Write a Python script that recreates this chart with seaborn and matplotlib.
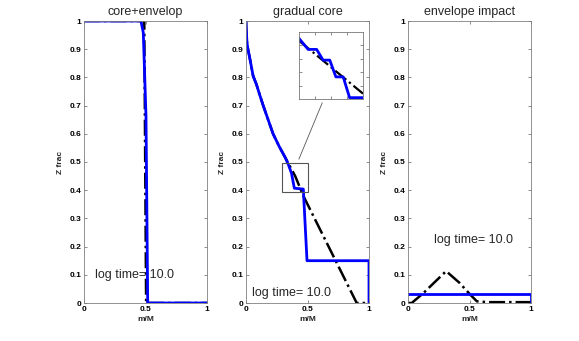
import numpy as np
import pandas as pd
import matplotlib
matplotlib.use("Agg")
import matplotlib.pyplot as plt
import seaborn as sns

# panel 1: core+envelop
core_x_blue = [0, 0.463, 0.482, 0.504, 0.518, 1.0]
core_y_blue = [1, 1, 0.959, 0.663, 0.0, 0.0]
core_x_black = [0, 0.49, 0.505, 1.0]
core_y_black = [1, 1, 0.0, 0.0]

# panel 2: gradual core
grad_x_blue = [0, 0.002, 0.008, 0.016, 0.03, 0.058, 0.085, 0.11, 0.14, 0.18, 0.22, 0.27, 0.32,
               0.345, 0.37, 0.393, 0.466, 0.496, 1.0, 1.0]
grad_y_blue = [1, 0.97, 0.923, 0.90, 0.87, 0.805, 0.775, 0.74, 0.70, 0.65, 0.60, 0.555, 0.515,
               0.49, 0.46, 0.407, 0.404, 0.15, 0.15, 0.0]
grad_x_black = [0, 0.002, 0.008, 0.016, 0.03, 0.058, 0.085, 0.11, 0.14, 0.18, 0.22, 0.27, 0.32,
                0.40, 0.466, 0.90, 1.0]
grad_y_black = [1, 0.97, 0.923, 0.90, 0.87, 0.805, 0.775, 0.74, 0.70, 0.65, 0.60, 0.555, 0.515,
                0.45, 0.38, 0.0, 0.0]

# zoomed inset of panel 2
inset_x_blue = [0.29, 0.32, 0.348, 0.369, 0.391, 0.411, 0.435, 0.456, 0.50]
inset_y_blue = [0.4855, 0.469, 0.469, 0.453, 0.453, 0.428, 0.428, 0.397, 0.397]
inset_x_black = [0.29, 0.50]
inset_y_black = [0.482, 0.403]

# panel 3: envelope impact
env_x_blue = [0, 1.0, 1.0]
env_y_blue = [0.032, 0.032, 0.0]
env_x_black = [0, 0.03, 0.125, 0.21, 0.31, 0.42, 0.505, 0.56, 0.65, 1.0]
env_y_black = [0, 0.0, 0.035, 0.071, 0.113, 0.071, 0.03, 0.006, 0.003, 0.003]

titles = ["core+envelop", "gradual core", "envelope impact"]
label_text = "log time= 10.0"
text_pos = [(0.09, 0.10), (0.05, 0.036), (0.21, 0.225)]

sns.set_style("ticks")
plt.rcParams['font.family'] = ['Liberation Sans', 'DejaVu Sans']
plt.rcParams['axes.edgecolor'] = '#808080'
plt.rcParams['axes.linewidth'] = 0.6

fig = plt.figure(figsize=(5.79, 3.41), dpi=100)
lefts = [84 / 579, 246 / 579, 408 / 579]
axes = [fig.add_axes([l, 38 / 341, 123 / 579, 282 / 341]) for l in lefts]

panels = [
    (core_x_blue, core_y_blue, core_x_black, core_y_black),
    (grad_x_blue, grad_y_blue, grad_x_black, grad_y_black),
    (env_x_blue, env_y_blue, env_x_black, env_y_black),
]


def style_ax(ax, labels=True):
    ax.tick_params(direction='in', length=2, width=0.5, top=True, right=True,
                   labelsize=6, pad=2, colors='#606060', labelcolor='black')
    for lab in ax.get_xticklabels() + ax.get_yticklabels():
        lab.set_fontweight('bold')
    if not labels:
        ax.tick_params(labelbottom=False, labelleft=False)


for ax, (bx, by, kx, ky), title, (tx, ty) in zip(axes, panels, titles, text_pos):
    sns.lineplot(x=kx, y=ky, ax=ax, sort=False, estimator=None, color='black',
                 linewidth=1.8, linestyle='-.')
    sns.lineplot(x=bx, y=by, ax=ax, sort=False, estimator=None, color='#0000ff',
                 linewidth=2.0)
    ax.set_xlim(0, 1)
    ax.set_ylim(0, 1)
    ax.set_xticks([0, 0.5, 1])
    ax.set_xticklabels(['0', '0.5', '1'])
    ax.set_yticks(np.arange(0, 1.01, 0.1))
    ax.set_yticklabels(['0'] + [f'{v:.1f}' for v in np.arange(0.1, 0.95, 0.1)] + ['1'])
    ax.set_title(title, fontsize=9, pad=4)
    ax.set_xlabel('m/M', fontsize=6, labelpad=2, fontweight='bold')
    ax.set_ylabel('Z frac', fontsize=6, labelpad=4, fontweight='bold')
    ax.text(tx, ty, label_text, fontsize=9, va='center', ha='left')
    style_ax(ax)

# zoom box + connector on panel 2
ax2 = axes[1]
ax2.add_patch(plt.Rectangle((0.29, 0.395), 0.21, 0.1, fill=False,
                            edgecolor='#555555', linewidth=0.8, zorder=5))
ax2.plot([0.43, 0.62], [0.51, 0.71], color='#555555', linewidth=0.6)

inset = fig.add_axes([299 / 579, (341 - 99) / 341, 64 / 579, 67 / 341])
sns.lineplot(x=inset_x_black, y=inset_y_black, ax=inset, sort=False, estimator=None,
             color='black', linewidth=1.6, linestyle='-.')
sns.lineplot(x=inset_x_blue, y=inset_y_blue, ax=inset, sort=False, estimator=None,
             color='#0000ff', linewidth=2.0)
inset.set_xlim(0.29, 0.50)
inset.set_ylim(0.395, 0.495)
inset.set_xticks([0.3425, 0.395, 0.4475])
inset.set_yticks([0.415, 0.435, 0.455, 0.475])
inset.set_xlabel('')
inset.set_ylabel('')
for s in inset.spines.values():
    s.set_edgecolor('#777777')
style_ax(inset, labels=False)

fig.savefig('out.png', dpi=100)
